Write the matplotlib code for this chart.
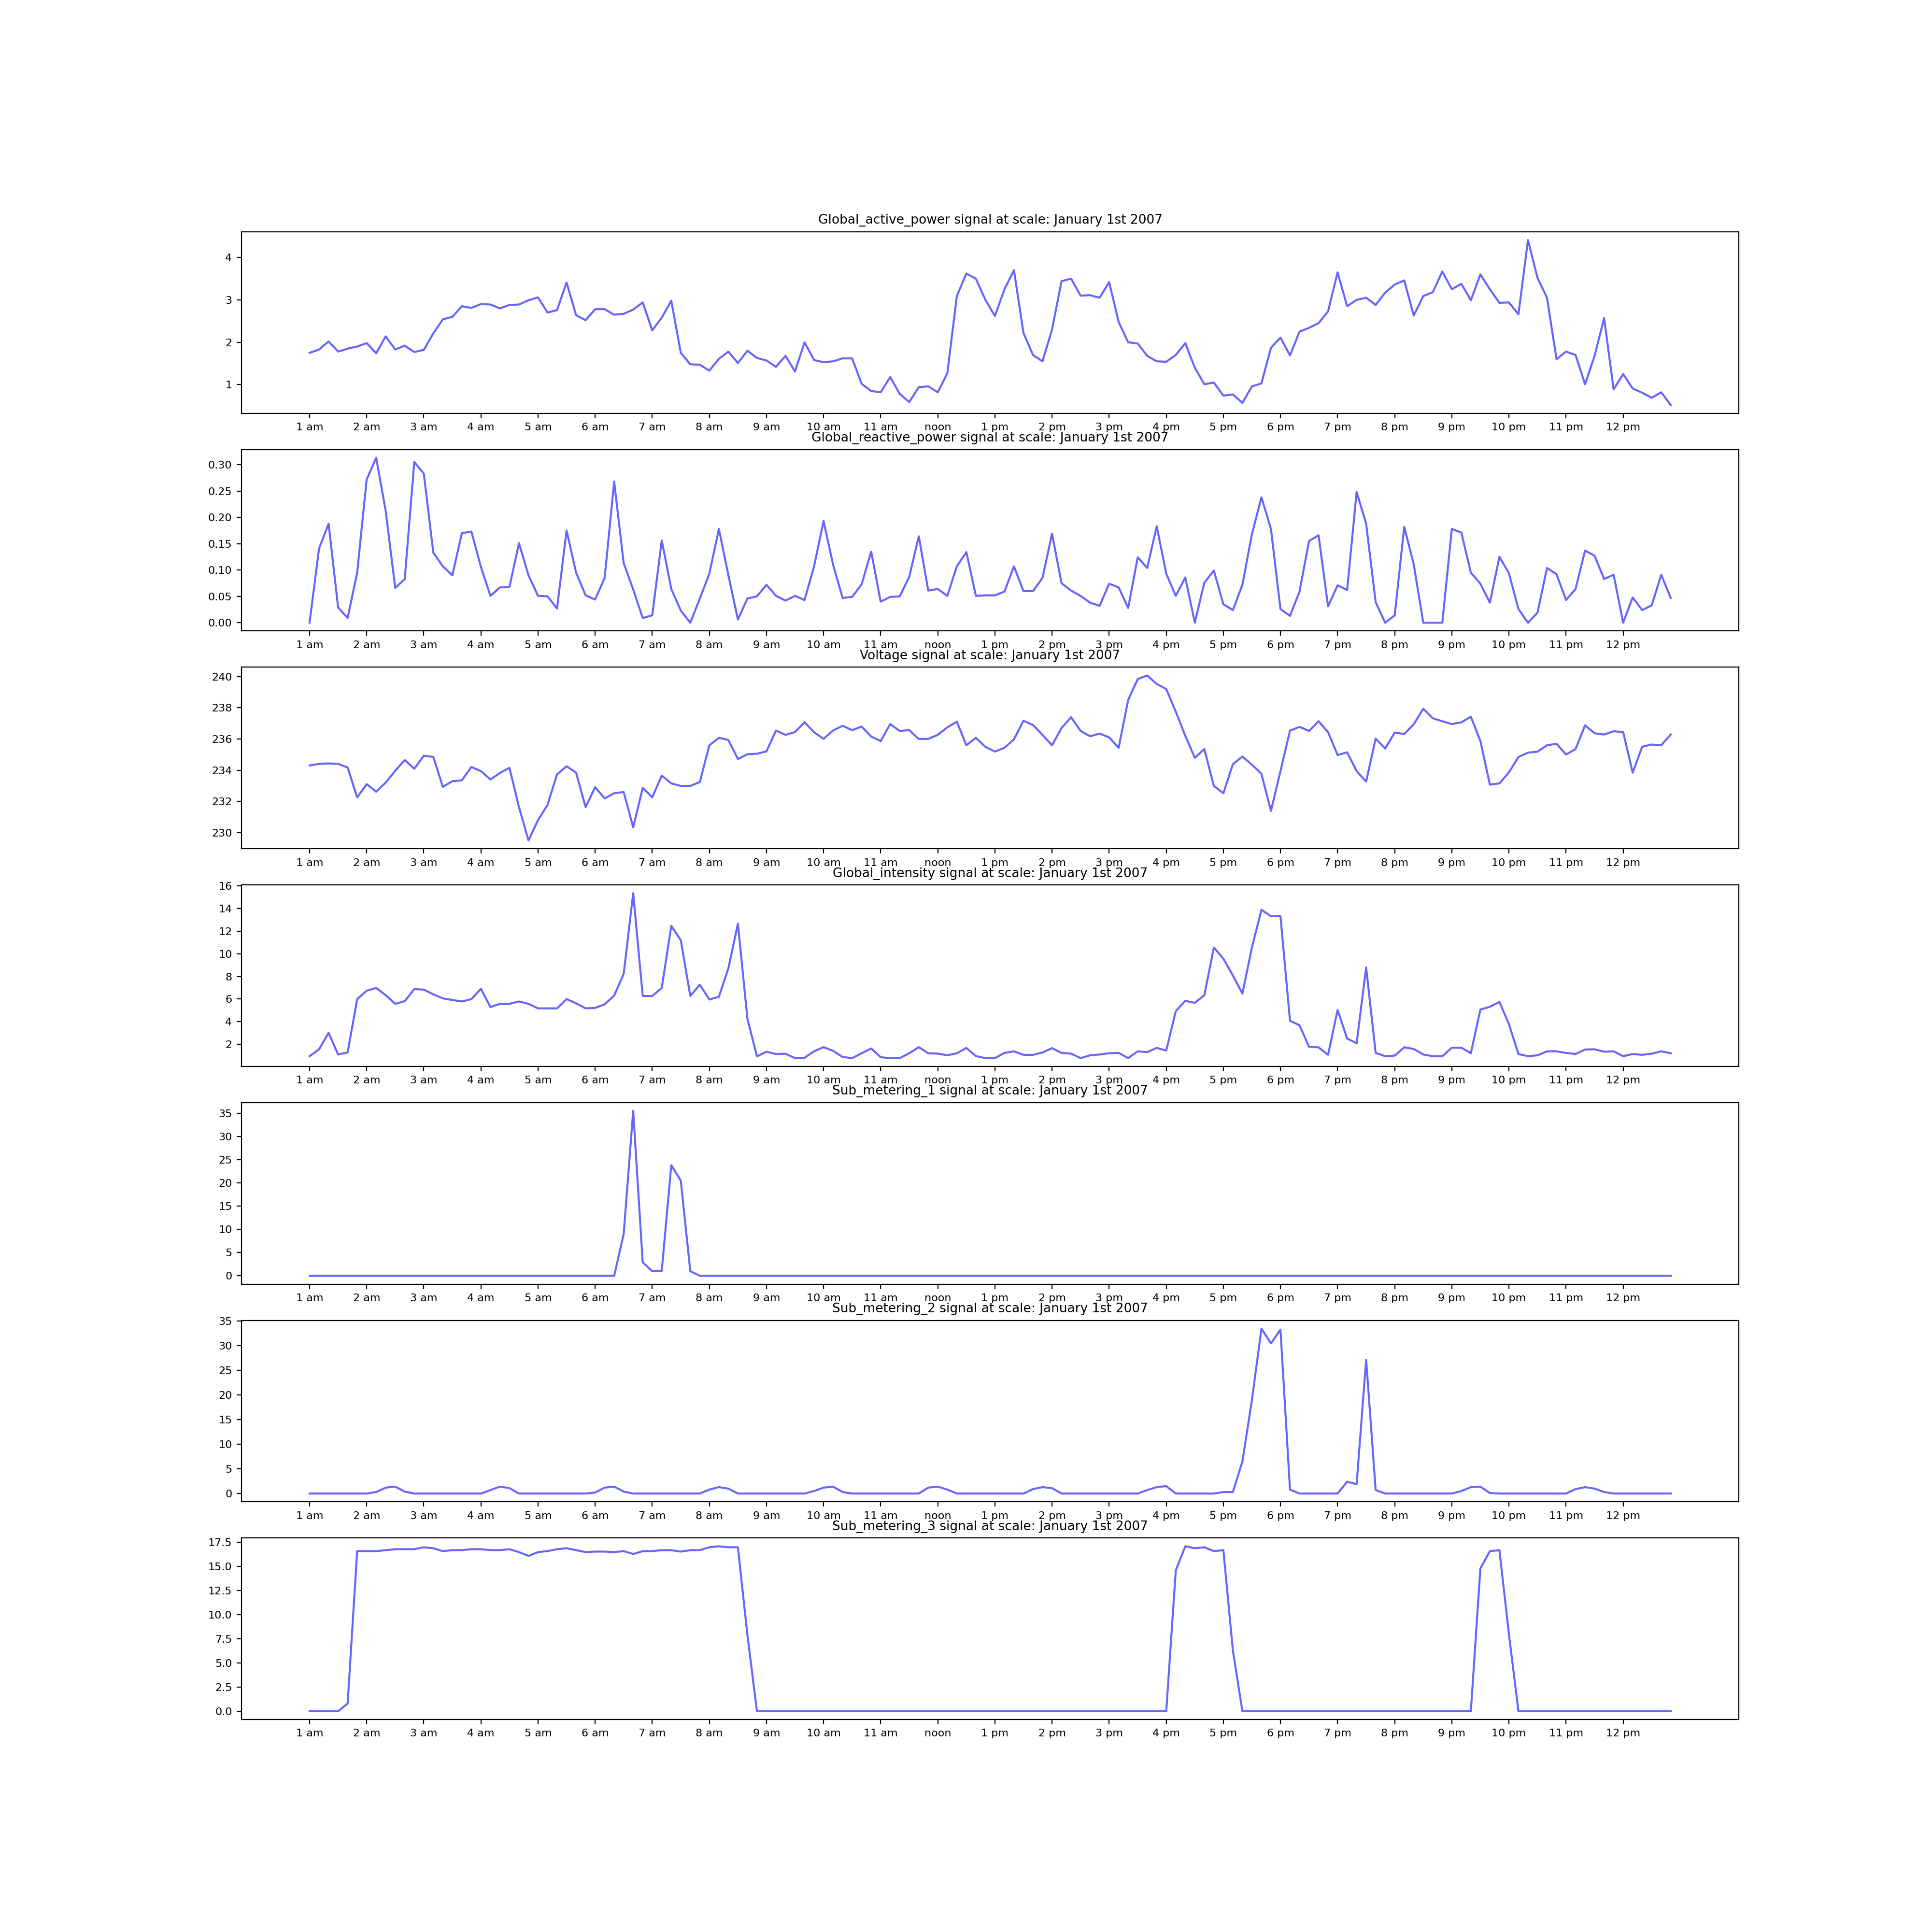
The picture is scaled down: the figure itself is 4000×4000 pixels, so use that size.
import matplotlib
matplotlib.use("Agg")
import matplotlib.pyplot as plt

# 10 minute samples over one day (144 points), hourly tick labels
hour_labels = [f"{h} am" for h in range(1, 12)] + ["noon"] + [f"{h} pm" for h in range(1, 13)]

global_active_power = [
    1.75, 1.83, 2.02, 1.78, 1.85, 1.90, 1.98, 1.74, 2.14, 1.83, 1.92, 1.77,
    1.82, 2.21, 2.54, 2.60, 2.85, 2.81, 2.90, 2.89, 2.80, 2.88, 2.89, 2.99,
    3.06, 2.70, 2.76, 3.41, 2.64, 2.52, 2.78, 2.78, 2.65, 2.67, 2.77, 2.94,
    2.28, 2.58, 2.98, 1.75, 1.48, 1.47, 1.33, 1.61, 1.78, 1.51, 1.80, 1.63,
    1.57, 1.42, 1.68, 1.31, 2.00, 1.58, 1.53, 1.55, 1.62, 1.62, 1.02, 0.85,
    0.82, 1.18, 0.78, 0.59, 0.94, 0.96, 0.82, 1.27, 3.09, 3.62, 3.50, 3.00,
    2.62, 3.25, 3.70, 2.22, 1.70, 1.55, 2.30, 3.44, 3.50, 3.10, 3.11, 3.05,
    3.42, 2.48, 2.00, 1.97, 1.68, 1.55, 1.54, 1.70, 1.98, 1.40, 1.01, 1.05,
    0.74, 0.77, 0.57, 0.96, 1.03, 1.87, 2.11, 1.69, 2.25, 2.34, 2.45, 2.73,
    3.65, 2.85, 3.00, 3.05, 2.88, 3.17, 3.36, 3.46, 2.63, 3.09, 3.18, 3.67,
    3.25, 3.38, 2.99, 3.60, 3.25, 2.93, 2.94, 2.66, 4.41, 3.52, 3.05, 1.60,
    1.78, 1.70, 1.01, 1.68, 2.57, 0.89, 1.25, 0.91, 0.81, 0.69, 0.82, 0.52,
]

global_reactive_power = [
    0.000, 0.141, 0.188, 0.029, 0.009, 0.095, 0.272, 0.313, 0.212, 0.066, 0.083, 0.305,
    0.283, 0.133, 0.107, 0.090, 0.170, 0.173, 0.106, 0.051, 0.067, 0.068, 0.151, 0.090,
    0.051, 0.050, 0.027, 0.175, 0.095, 0.052, 0.044, 0.085, 0.268, 0.113, 0.063, 0.009,
    0.014, 0.156, 0.064, 0.023, 0.000, 0.046, 0.093, 0.178, 0.090, 0.006, 0.046, 0.050,
    0.072, 0.051, 0.042, 0.051, 0.043, 0.107, 0.193, 0.110, 0.047, 0.049, 0.073, 0.135,
    0.040, 0.049, 0.050, 0.087, 0.164, 0.061, 0.064, 0.051, 0.107, 0.134, 0.051, 0.052,
    0.052, 0.059, 0.107, 0.060, 0.060, 0.085, 0.169, 0.075, 0.061, 0.051, 0.038, 0.032,
    0.074, 0.067, 0.028, 0.124, 0.104, 0.183, 0.093, 0.051, 0.086, 0.000, 0.076, 0.099,
    0.035, 0.024, 0.072, 0.168, 0.238, 0.178, 0.026, 0.013, 0.059, 0.155, 0.166, 0.031,
    0.071, 0.062, 0.248, 0.188, 0.039, 0.000, 0.014, 0.182, 0.111, 0.000, 0.000, 0.000,
    0.178, 0.171, 0.095, 0.074, 0.038, 0.125, 0.094, 0.026, 0.000, 0.019, 0.104, 0.092,
    0.043, 0.064, 0.137, 0.127, 0.083, 0.091, 0.000, 0.048, 0.024, 0.033, 0.091, 0.047,
]

voltage = [
    234.31, 234.41, 234.44, 234.41, 234.18, 232.27, 233.11, 232.63, 233.21, 233.97, 234.65, 234.10,
    234.93, 234.86, 232.94, 233.30, 233.36, 234.21, 233.95, 233.41, 233.83, 234.16, 231.64, 229.51,
    230.81, 231.79, 233.74, 234.26, 233.85, 231.64, 232.92, 232.20, 232.53, 232.61, 230.35, 232.87,
    232.27, 233.66, 233.16, 233.00, 233.00, 233.25, 235.60, 236.08, 235.94, 234.72, 235.03, 235.06,
    235.21, 236.54, 236.27, 236.45, 237.08, 236.44, 236.01, 236.55, 236.85, 236.57, 236.80, 236.16,
    235.87, 236.96, 236.52, 236.57, 236.01, 236.01, 236.27, 236.75, 237.11, 235.60, 236.08, 235.50,
    235.20, 235.44, 235.98, 237.17, 236.90, 236.27, 235.60, 236.71, 237.40, 236.52, 236.18, 236.35,
    236.11, 235.44, 238.50, 239.84, 240.07, 239.53, 239.20, 237.76, 236.21, 234.80, 235.36, 233.00,
    232.53, 234.39, 234.88, 234.36, 233.77, 231.40, 233.95, 236.54, 236.78, 236.52, 237.14, 236.44,
    234.98, 235.15, 233.95, 233.28, 236.03, 235.39, 236.42, 236.32, 236.95, 237.94, 237.33, 237.14,
    236.96, 237.07, 237.43, 235.88, 233.08, 233.16, 233.87, 234.85, 235.13, 235.19, 235.60, 235.70,
    235.01, 235.36, 236.88, 236.37, 236.29, 236.50, 236.45, 233.85, 235.51, 235.65, 235.60, 236.29,
]

global_intensity = [
    0.96, 1.57, 3.02, 1.11, 1.29, 5.99, 6.74, 6.98, 6.34, 5.58, 5.82, 6.88,
    6.83, 6.42, 6.06, 5.92, 5.79, 5.99, 6.91, 5.29, 5.58, 5.58, 5.79, 5.58,
    5.18, 5.18, 5.18, 6.00, 5.63, 5.18, 5.22, 5.53, 6.31, 8.22, 15.34, 6.27,
    6.27, 6.98, 12.46, 11.19, 6.28, 7.27, 5.96, 6.20, 8.72, 12.65, 4.26, 0.94,
    1.36, 1.15, 1.18, 0.79, 0.82, 1.39, 1.76, 1.43, 0.89, 0.79, 1.22, 1.64,
    0.87, 0.79, 0.79, 1.22, 1.76, 1.22, 1.19, 1.04, 1.22, 1.69, 0.97, 0.79,
    0.79, 1.25, 1.39, 1.08, 1.08, 1.29, 1.67, 1.25, 1.19, 0.79, 1.04, 1.11,
    1.22, 1.25, 0.79, 1.39, 1.32, 1.69, 1.46, 4.93, 5.84, 5.67, 6.34, 10.55,
    9.56, 8.08, 6.48, 10.55, 13.88, 13.31, 13.31, 4.08, 3.69, 1.79, 1.74, 1.08,
    5.04, 2.52, 2.10, 8.79, 1.25, 0.96, 1.01, 1.74, 1.60, 1.11, 0.96, 0.96,
    1.71, 1.71, 1.22, 5.07, 5.32, 5.75, 3.79, 1.15, 0.96, 1.04, 1.39, 1.39,
    1.25, 1.15, 1.55, 1.57, 1.36, 1.39, 0.96, 1.15, 1.08, 1.18, 1.39, 1.22,
]

sub_metering_1 = [
    0, 0, 0, 0, 0, 0, 0, 0, 0, 0, 0, 0,
    0, 0, 0, 0, 0, 0, 0, 0, 0, 0, 0, 0,
    0, 0, 0, 0, 0, 0, 0, 0, 0, 9.0, 35.5, 2.9,
    1.0, 1.1, 23.8, 20.5, 1.0, 0, 0, 0, 0, 0, 0, 0,
    0, 0, 0, 0, 0, 0, 0, 0, 0, 0, 0, 0,
    0, 0, 0, 0, 0, 0, 0, 0, 0, 0, 0, 0,
    0, 0, 0, 0, 0, 0, 0, 0, 0, 0, 0, 0,
    0, 0, 0, 0, 0, 0, 0, 0, 0, 0, 0, 0,
    0, 0, 0, 0, 0, 0, 0, 0, 0, 0, 0, 0,
    0, 0, 0, 0, 0, 0, 0, 0, 0, 0, 0, 0,
    0, 0, 0, 0, 0, 0, 0, 0, 0, 0, 0, 0,
    0, 0, 0, 0, 0, 0, 0, 0, 0, 0, 0, 0,
]

sub_metering_2 = [
    0, 0, 0, 0, 0, 0, 0, 0.3, 1.2, 1.4, 0.4, 0,
    0, 0, 0, 0, 0, 0, 0, 0.7, 1.4, 1.1, 0, 0,
    0, 0, 0, 0, 0, 0, 0.2, 1.2, 1.4, 0.4, 0, 0,
    0, 0, 0, 0, 0, 0, 0.8, 1.3, 1.0, 0, 0, 0,
    0, 0, 0, 0, 0, 0.5, 1.2, 1.4, 0.3, 0, 0, 0,
    0, 0, 0, 0, 0, 1.2, 1.4, 0.8, 0, 0, 0, 0,
    0, 0, 0, 0, 0.9, 1.3, 1.1, 0, 0, 0, 0, 0,
    0, 0, 0, 0, 0.7, 1.3, 1.5, 0, 0, 0, 0, 0,
    0.3, 0.3, 6.5, 19.0, 33.5, 30.5, 33.3, 0.8, 0, 0, 0, 0,
    0, 2.4, 1.9, 27.2, 0.7, 0, 0, 0, 0, 0, 0, 0,
    0, 0.5, 1.3, 1.4, 0.1, 0, 0, 0, 0, 0, 0, 0,
    0, 0.9, 1.3, 1.0, 0.3, 0, 0, 0, 0, 0, 0, 0,
]

sub_metering_3 = [
    0, 0, 0, 0, 0.8, 16.6, 16.6, 16.6, 16.7, 16.8, 16.8, 16.8,
    17.0, 16.9, 16.6, 16.7, 16.7, 16.8, 16.8, 16.7, 16.7, 16.8, 16.5, 16.1,
    16.5, 16.6, 16.8, 16.9, 16.7, 16.5, 16.55, 16.55, 16.5, 16.6, 16.3, 16.6,
    16.6, 16.7, 16.7, 16.55, 16.7, 16.7, 17.0, 17.1, 17.0, 17.0, 7.9, 0,
    0, 0, 0, 0, 0, 0, 0, 0, 0, 0, 0, 0,
    0, 0, 0, 0, 0, 0, 0, 0, 0, 0, 0, 0,
    0, 0, 0, 0, 0, 0, 0, 0, 0, 0, 0, 0,
    0, 0, 0, 0, 0, 0, 0, 14.6, 17.1, 16.9, 17.0, 16.6,
    16.7, 6.3, 0, 0, 0, 0, 0, 0, 0, 0, 0, 0,
    0, 0, 0, 0, 0, 0, 0, 0, 0, 0, 0, 0,
    0, 0, 0, 14.8, 16.6, 16.7, 8.0, 0, 0, 0, 0, 0,
    0, 0, 0, 0, 0, 0, 0, 0, 0, 0, 0, 0,
]

# integer ticks for the intensity panel, as in the original
intensity_ticks = [2, 4, 6, 8, 10, 12, 14, 16]

signals = [
    ("Global_active_power", global_active_power),
    ("Global_reactive_power", global_reactive_power),
    ("Voltage", voltage),
    ("Global_intensity", global_intensity),
    ("Sub_metering_1", sub_metering_1),
    ("Sub_metering_2", sub_metering_2),
    ("Sub_metering_3", sub_metering_3),
]

fig, axes = plt.subplots(len(signals), 1, figsize=(20, 20))
for ax, (name, values) in zip(axes, signals):
    ax.plot(range(len(values)), values, color="b", alpha=0.6)
    ax.set_title(f"{name} signal at scale: January 1st 2007", fontsize=9.5)
    ax.set_xticks(range(0, len(values), 6))
    ax.set_xticklabels(hour_labels, fontsize=8)
    ax.tick_params(axis="y", labelsize=8)
    if name == "Global_intensity":
        ax.set_yticks(intensity_ticks)

plt.savefig("out.png", dpi=200)
plt.close()
